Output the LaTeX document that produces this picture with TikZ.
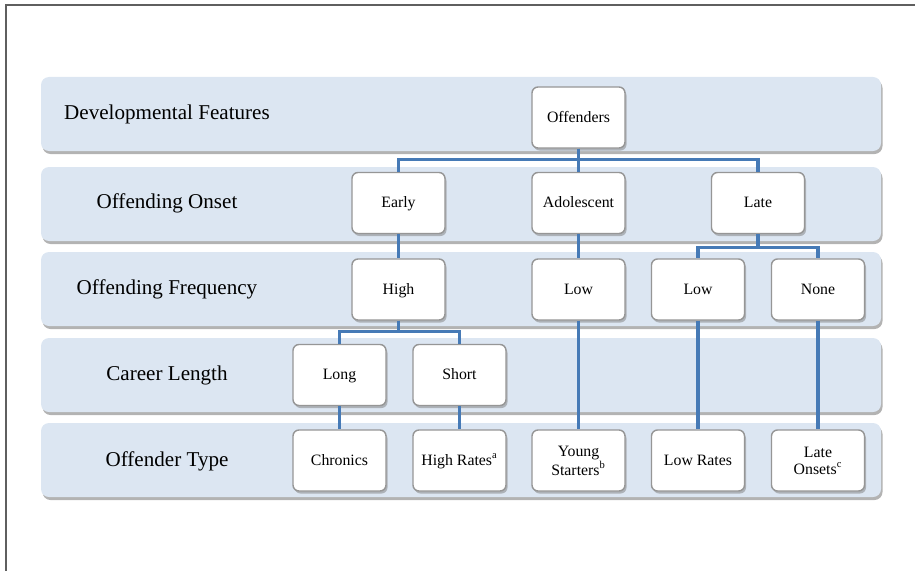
\documentclass[tikz,border=0pt]{standalone}
\usepackage{fontspec}
\setmainfont{Liberation Serif}
\usetikzlibrary{shadows}
\definecolor{paleblue}{RGB}{220,230,242}
\definecolor{linkblue}{RGB}{70,122,182}
\definecolor{edge}{RGB}{150,150,150}
\definecolor{frameline}{RGB}{95,95,95}
\tikzset{
  band/.style={fill=paleblue,rounded corners=1.6mm,
    drop shadow={opacity=0.6,shadow xshift=0.3mm,shadow yshift=-0.6mm}},
  rowlabel/.style={font=\fontsize{12}{14}\selectfont,text=black},
  box/.style={draw=edge,thick,fill=white,rounded corners=1.2mm,
    minimum width=18.6mm,minimum height=12.2mm,align=center,
    text height=1.6ex,text depth=0.4ex,
    font=\fontsize{9}{9.6}\selectfont,
    drop shadow={opacity=0.5,shadow xshift=0.3mm,shadow yshift=-0.5mm}},
  twoline/.style={text height=,text depth=},
  link/.style={draw=linkblue,line width=0.65mm},
}

\begin{document}
\begin{tikzpicture}[x=0.2mm,y=-0.2mm]
    \useasboundingbox (0,0) rectangle (915,571);
    \draw[frameline,line width=0.4mm] (5.5,571) -- (5.5,5.5) -- (915,5.5);
    % rows
    \foreach \top in {77,167,252,338,423}
      \path[band] (41,\top) rectangle (881,\top+74);
    \node[rowlabel] (dev) at (167,114) {Developmental Features};
    \node[rowlabel] (ons) at (167,203) {Offending Onset};
    \node[rowlabel] (frq) at (167,289) {Offending Frequency};
    \node[rowlabel] (car) at (167,375) {Career Length};
    \node[rowlabel] (typ) at (167,461) {Offender Type};
    % tree
    \node[box] (off) at (578.5,117.5) {Offenders};
    \node[box] (early) at (398.5,203) {Early};
    \node[box] (adol) at (578.5,203) {Adolescent};
    \node[box] (late) at (758,203) {Late};
    \node[box] (high) at (398.5,289.5) {High};
    \node[box] (lowa) at (578.5,289.5) {Low};
    \node[box] (lowl) at (698,289.5) {Low};
    \node[box] (none) at (818,289.5) {None};
    \node[box] (long) at (339.5,375) {Long};
    \node[box] (short) at (459.5,375) {Short};
    \node[box] (chron) at (339.5,460.5) {Chronics};
    \node[box] (hrate) at (459.5,460.5) {High Rates\textsuperscript{a}};
    \node[box,twoline] (young) at (578.5,460.5) {Young\\Starters\textsuperscript{b}};
    \node[box] (lrate) at (698,460.5) {Low Rates};
    \node[box,twoline] (lonset) at (818,460.5) {Late\\Onsets\textsuperscript{c}};
    \draw[link] (off.south) -- ++(0,11) -| (early.north); \draw[link] (off.south) -- ++(0,11) -| (late.north);
    \draw[link] (off) -- (adol);
    \draw[link] (early) -- (high); \draw[link] (adol) -- (lowa);
    \draw[link] (late.south) -- ++(0,13) -| (lowl.north); \draw[link] (late.south) -- ++(0,13) -| (none.north);
    \draw[link] (high.south) -- ++(0,11) -| (long.north); \draw[link] (high.south) -- ++(0,11) -| (short.north);
    \draw[link] (long) -- (chron); \draw[link] (short) -- (hrate);
    \draw[link] (lowa) -- (young); \draw[link] (lowl) -- (lrate); \draw[link] (none) -- (lonset);
\end{tikzpicture}
\end{document}
